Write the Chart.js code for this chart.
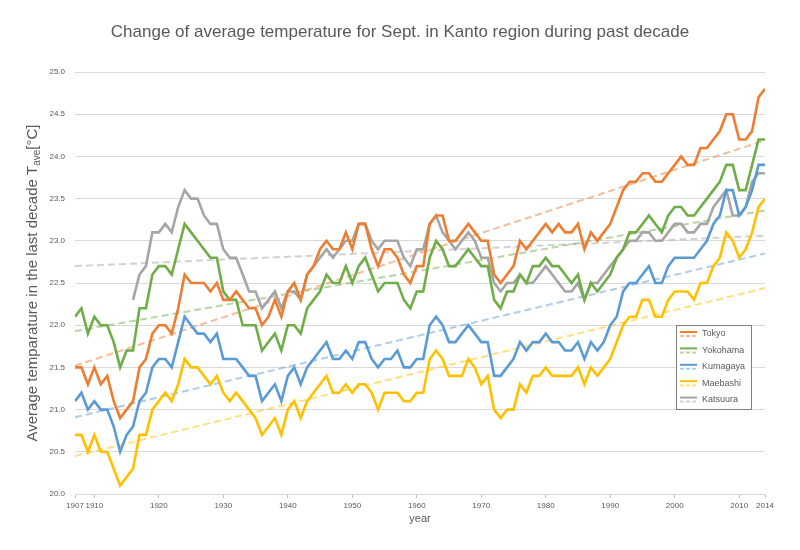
<!DOCTYPE html>
<html>
<head>
<meta charset="utf-8">
<script src="https://cdn.jsdelivr.net/npm/chart.js@4.4.1/dist/chart.umd.min.js"></script>
<style>
  html, body { margin: 0; padding: 0; background: #fff; }
  #wrap { width: 800px; height: 550px; }
</style>
</head>
<body>
<div id="wrap"><canvas id="myChart"></canvas></div>
<script>
const firstYear = 1907;
const lastYear = 2014;
const xTicks = [1907, 1910, 1920, 1930, 1940, 1950, 1960, 1970, 1980, 1990, 2000, 2010, 2014];

const cities = ['Tokyo', 'Yokohama', 'Kumagaya', 'Maebashi', 'Katsuura'];
const colors = ['#ED7D31', '#70AD47', '#5B9BD5', '#FFC000', '#A5A5A5'];
const trendColors = ['rgba(237,125,49,0.5)', 'rgba(112,173,71,0.5)', 'rgba(91,155,213,0.5)', 'rgba(255,192,0,0.5)', 'rgba(165,165,165,0.5)'];

// 10-year averages, one value per year 1907..2014
const tokyo = [
  21.5, 21.5, 21.3, 21.5, 21.3, 21.4, 21.1, 20.9, 21.0, 21.1,
  21.5, 21.6, 21.9, 22.0, 22.0, 21.9, 22.2, 22.6, 22.5, 22.5,
  22.5, 22.4, 22.5, 22.3, 22.3, 22.4, 22.3, 22.2, 22.2, 22.0,
  22.1, 22.3, 22.1, 22.4, 22.5, 22.3, 22.6, 22.7, 22.9, 23.0,
  22.9, 22.9, 23.1, 22.9, 23.2, 23.2, 22.9, 22.7, 22.9, 22.9,
  22.8, 22.6, 22.5, 22.7, 22.7, 23.2, 23.3, 23.3, 23.0, 23.0,
  23.1, 23.2, 23.1, 23.0, 23.0, 22.6, 22.5, 22.6, 22.7, 23.0,
  22.9, 23.0, 23.1, 23.2, 23.1, 23.2, 23.1, 23.1, 23.2, 22.9,
  23.1, 23.0, 23.1, 23.2, 23.4, 23.6, 23.7, 23.7, 23.8, 23.8,
  23.7, 23.7, 23.8, 23.9, 24.0, 23.9, 23.9, 24.1, 24.1, 24.2,
  24.3, 24.5, 24.5, 24.2, 24.2, 24.3, 24.7, 24.8
];
const yokohama = [
  22.1, 22.2, 21.9, 22.1, 22.0, 22.0, 21.8, 21.5, 21.7, 21.7,
  22.2, 22.2, 22.6, 22.7, 22.7, 22.6, 22.9, 23.2, 23.1, 23.0,
  22.9, 22.8, 22.8, 22.4, 22.3, 22.3, 22.0, 22.0, 22.0, 21.7,
  21.8, 21.9, 21.7, 22.0, 22.0, 21.9, 22.2, 22.3, 22.4, 22.6,
  22.5, 22.5, 22.7, 22.5, 22.7, 22.8, 22.6, 22.4, 22.5, 22.5,
  22.5, 22.3, 22.2, 22.4, 22.4, 22.8, 23.0, 22.9, 22.7, 22.7,
  22.8, 22.9, 22.8, 22.7, 22.7, 22.3, 22.2, 22.4, 22.4, 22.6,
  22.5, 22.7, 22.7, 22.8, 22.7, 22.7, 22.6, 22.5, 22.6, 22.3,
  22.5, 22.4, 22.5, 22.6, 22.8, 22.9, 23.1, 23.1, 23.2, 23.3,
  23.2, 23.1, 23.3, 23.4, 23.4, 23.3, 23.3, 23.4, 23.5, 23.6,
  23.7, 23.9, 23.9, 23.6, 23.6, 23.9, 24.2, 24.2
];
const kumagaya = [
  21.1, 21.2, 21.0, 21.1, 21.0, 21.0, 20.8, 20.5, 20.7, 20.8,
  21.1, 21.2, 21.5, 21.6, 21.6, 21.5, 21.8, 22.1, 22.0, 21.9,
  21.9, 21.8, 21.9, 21.6, 21.6, 21.6, 21.5, 21.4, 21.4, 21.1,
  21.2, 21.3, 21.1, 21.4, 21.5, 21.3, 21.5, 21.6, 21.7, 21.8,
  21.6, 21.6, 21.7, 21.6, 21.8, 21.8, 21.6, 21.5, 21.6, 21.6,
  21.7, 21.5, 21.5, 21.6, 21.6, 22.0, 22.1, 22.0, 21.8, 21.8,
  21.9, 22.0, 21.9, 21.8, 21.8, 21.4, 21.4, 21.5, 21.6, 21.8,
  21.7, 21.8, 21.8, 21.9, 21.8, 21.8, 21.7, 21.7, 21.8, 21.6,
  21.8, 21.7, 21.8, 22.0, 22.1, 22.4, 22.5, 22.5, 22.6, 22.7,
  22.5, 22.5, 22.7, 22.8, 22.8, 22.8, 22.8, 22.9, 23.0, 23.2,
  23.3, 23.6, 23.6, 23.3, 23.4, 23.6, 23.9, 23.9
];
const maebashi = [
  20.7, 20.7, 20.5, 20.7, 20.5, 20.5, 20.3, 20.1, 20.2, 20.3,
  20.7, 20.7, 21.0, 21.1, 21.2, 21.1, 21.3, 21.6, 21.5, 21.5,
  21.4, 21.3, 21.4, 21.2, 21.1, 21.2, 21.1, 21.0, 20.9, 20.7,
  20.8, 20.9, 20.7, 21.0, 21.1, 20.9, 21.1, 21.2, 21.3, 21.4,
  21.2, 21.2, 21.3, 21.2, 21.3, 21.3, 21.2, 21.0, 21.2, 21.2,
  21.2, 21.1, 21.1, 21.2, 21.2, 21.6, 21.7, 21.6, 21.4, 21.4,
  21.4, 21.6, 21.5, 21.3, 21.4, 21.0, 20.9, 21.0, 21.0, 21.3,
  21.2, 21.4, 21.4, 21.5, 21.4, 21.4, 21.4, 21.4, 21.5, 21.3,
  21.5, 21.4, 21.5, 21.6, 21.8, 22.0, 22.1, 22.1, 22.3, 22.3,
  22.1, 22.1, 22.3, 22.4, 22.4, 22.4, 22.3, 22.5, 22.5, 22.7,
  22.8, 23.1, 23.0, 22.8, 22.9, 23.1, 23.4, 23.5
];
const katsuura = [
  null, null, null, null, null, null, null, null, null, 22.3,
  22.6, 22.7, 23.1, 23.1, 23.2, 23.1, 23.4, 23.6, 23.5, 23.5,
  23.3, 23.2, 23.2, 22.9, 22.8, 22.8, 22.6, 22.4, 22.4, 22.2,
  22.3, 22.4, 22.2, 22.4, 22.4, 22.3, 22.6, 22.7, 22.8, 22.9,
  22.8, 22.9, 23.0, 23.0, 23.2, 23.2, 23.0, 22.9, 23.0, 23.0,
  23.0, 22.8, 22.7, 22.9, 22.9, 23.2, 23.3, 23.1, 23.0, 22.9,
  23.0, 23.1, 23.0, 22.8, 22.8, 22.5, 22.4, 22.5, 22.5, 22.6,
  22.5, 22.5, 22.6, 22.7, 22.6, 22.5, 22.4, 22.4, 22.5, 22.3,
  22.5, 22.5, 22.6, 22.7, 22.8, 22.9, 23.0, 23.0, 23.1, 23.1,
  23.0, 23.0, 23.1, 23.2, 23.2, 23.1, 23.1, 23.2, 23.2, 23.4,
  23.5, 23.6, 23.3, 23.3, 23.4, 23.7, 23.8, 23.8
];

// linear trend lines: value at 1907 and at 2014
const trendStart = [21.52, 21.93, 20.91, 20.45, 22.70];
const trendEnd = [24.19, 23.36, 22.85, 22.44, 23.06];

const series = [tokyo, yokohama, kumagaya, maebashi, katsuura];
const toPoints = (arr) => arr.map((v, i) => ({ x: firstYear + i, y: v }));

const chartTitle = 'Change of average temperature for Sept. in Kanto region during past decade';
const textColor = '#595959';
const family = '"Liberation Sans", Arial, sans-serif';

const datasets = [];
series.forEach((arr, i) => {
  datasets.push({
    label: cities[i],
    data: toPoints(arr),
    borderColor: colors[i],
    backgroundColor: colors[i],
    borderWidth: 2.6,
    pointRadius: 0,
    tension: 0,
    order: i + 1
  });
});
series.forEach((arr, i) => {
  datasets.push({
    label: cities[i] + ' trend',
    data: [{ x: firstYear, y: trendStart[i] }, { x: lastYear, y: trendEnd[i] }],
    borderColor: trendColors[i],
    borderWidth: 2,
    borderDash: [7, 4],
    pointRadius: 0,
    order: 10 + i
  });
});

// page title (centred on the canvas) and y axis title with the subscript "ave"
const titles = {
  id: 'titles',
  afterDraw(chart) {
    const { ctx, chartArea, width } = chart;
    ctx.save();
    ctx.fillStyle = textColor;
    ctx.font = '17px ' + family;
    ctx.textAlign = 'center';
    ctx.textBaseline = 'middle';
    ctx.fillText(chartTitle, width / 2, 32);

    const main = 'Average temparature in the last decade T';
    const sub = 'ave';
    const tail = '[\u00B0C]';
    const big = '15px ' + family;
    const small = '10px ' + family;
    ctx.textAlign = 'left';
    ctx.font = big;
    const w1 = ctx.measureText(main).width;
    const w3 = ctx.measureText(tail).width;
    ctx.font = small;
    const w2 = ctx.measureText(sub).width;
    const total = w1 + w2 + w3;
    ctx.translate(33, (chartArea.top + chartArea.bottom) / 2);
    ctx.rotate(-Math.PI / 2);
    let x = -total / 2;
    ctx.font = big;
    ctx.fillText(main, x, 0);
    x += w1;
    ctx.font = small;
    ctx.fillText(sub, x, 4);
    x += w2;
    ctx.font = big;
    ctx.fillText(tail, x, 0);
    ctx.restore();
  }
};

// legend box inside the plot, solid + dashed sample per city
const boxLegend = {
  id: 'boxLegend',
  afterDatasetsDraw(chart) {
    const { ctx, chartArea } = chart;
    const left = chartArea.right - 89;
    const top = chartArea.top + 253;
    const w = 75;
    const h = 84;
    ctx.save();
    ctx.fillStyle = '#fff';
    ctx.fillRect(left, top, w, h);
    ctx.strokeStyle = '#7f7f7f';
    ctx.lineWidth = 1;
    ctx.strokeRect(left + 0.5, top + 0.5, w, h);
    ctx.font = '9px ' + family;
    ctx.textBaseline = 'middle';
    cities.forEach((name, i) => {
      const y = top + 9 + i * 16.4;
      ctx.lineWidth = 2;
      ctx.setLineDash([]);
      ctx.strokeStyle = colors[i];
      ctx.beginPath();
      ctx.moveTo(left + 4, y - 2);
      ctx.lineTo(left + 21, y - 2);
      ctx.stroke();
      ctx.setLineDash([4, 2]);
      ctx.strokeStyle = trendColors[i];
      ctx.beginPath();
      ctx.moveTo(left + 4, y + 2);
      ctx.lineTo(left + 21, y + 2);
      ctx.stroke();
      ctx.fillStyle = textColor;
      ctx.fillText(name, left + 26, y);
    });
    ctx.restore();
  }
};

const ctx = document.getElementById('myChart').getContext('2d');

const myChart = new Chart(ctx, {
  type: 'line',
  data: { datasets: datasets },
  plugins: [titles, boxLegend],
  options: {
    responsive: true,
    maintainAspectRatio: false,
    animation: false,
    layout: { padding: { left: 0, right: 35, top: 72, bottom: 0 } },
    scales: {
      x: {
        type: 'linear',
        min: firstYear,
        max: lastYear,
        afterBuildTicks: (scale) => {
          scale.ticks = xTicks.map((v) => ({ value: v }));
        },
        afterFit: (scale) => { scale.height = 56; },
        grid: { drawOnChartArea: false, tickLength: 4, color: '#bfbfbf' },
        border: { display: true, color: '#d9d9d9' },
        ticks: {
          autoSkip: false,
          maxRotation: 0,
          padding: 3,
          color: textColor,
          font: { size: 8, family: family },
          callback: (v) => String(v)
        },
        title: {
          display: true,
          text: 'year',
          color: textColor,
          font: { size: 11, family: family },
          padding: { top: 0, bottom: 24 }
        }
      },
      y: {
        min: 20,
        max: 25,
        afterFit: (scale) => { scale.width = 75; },
        grid: { color: '#d9d9d9', drawTicks: false },
        border: { display: false },
        ticks: {
          stepSize: 0.5,
          padding: 10,
          color: textColor,
          font: { size: 8, family: family },
          callback: (v) => v.toFixed(1)
        }
      }
    },
    plugins: {
      legend: { display: false },
      tooltip: { enabled: false },
      title: { display: false }
    }
  }
});
</script>
</body>
</html>
